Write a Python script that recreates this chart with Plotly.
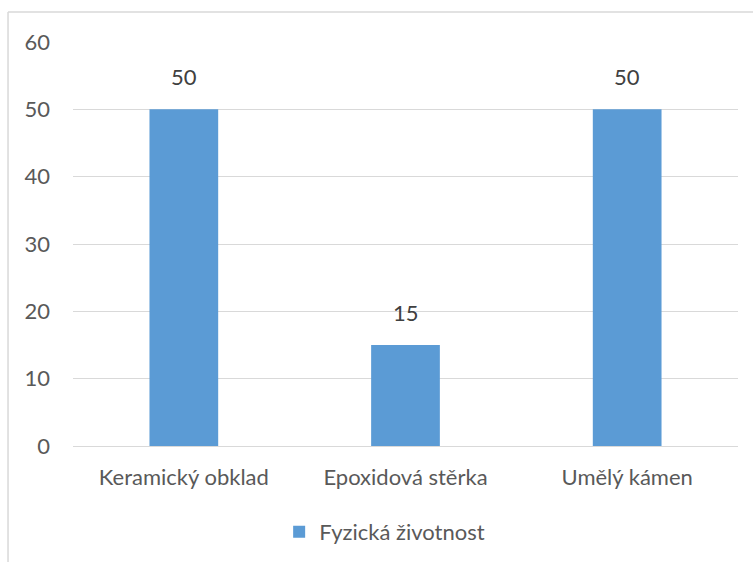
import plotly.graph_objects as go

categories = ["Keramický obklad", "Epoxidová stěrka", "Umělý kámen"]
values = [50, 15, 50]
series_name = "Fyzická životnost"
y_ticks = [0, 10, 20, 30, 40, 50, 60]

FONT = "Lato, Carlito, 'Noto Sans', sans-serif"
FS = 22

fig = go.Figure()
fig.add_trace(go.Bar(
    x=categories, y=values, name=series_name,
    marker=dict(color="#5b9bd5", line=dict(width=0)),
    width=0.31,
))

for c, v in zip(categories, values):
    fig.add_annotation(x=c, y=v, text=str(v), showarrow=False, yanchor="middle",
                       yshift=33, font=dict(color="#404040", size=FS, family=FONT))

fig.update_layout(
    width=753, height=562,
    margin=dict(l=73, r=15, t=42, b=116, autoexpand=False),
    paper_bgcolor="white", plot_bgcolor="white",
    font=dict(family=FONT, color="#595959", size=FS),
    showlegend=True,
    legend=dict(orientation="h", x=0.31, xanchor="left", y=-0.213, yanchor="middle",
                font=dict(size=FS, color="#595959"), itemwidth=30),
    xaxis=dict(showgrid=False, showline=True, linecolor="#d9d9d9", linewidth=1, automargin=False,
               ticks="", ticklabelstandoff=12, tickfont=dict(size=FS, color="#595959")),
    yaxis=dict(range=[0, 60], tickvals=y_ticks, showgrid=True, gridcolor="#d9d9d9", automargin=False,
               gridwidth=1, zeroline=False, showline=False, ticks="",
               ticklabelstandoff=22, tickfont=dict(size=FS, color="#595959")),
    shapes=[
        dict(type="line", xref="paper", yref="paper", x0=-0.0977, x1=-0.0977, y0=1.074, y1=-0.3,
             line=dict(color="#d9d9d9", width=1.5)),
        dict(type="line", xref="paper", yref="paper", x0=-0.0977, x1=1.03, y0=1.074, y1=1.074,
             line=dict(color="#d9d9d9", width=1.5)),
    ],
)

fig.write_html("out.html")
